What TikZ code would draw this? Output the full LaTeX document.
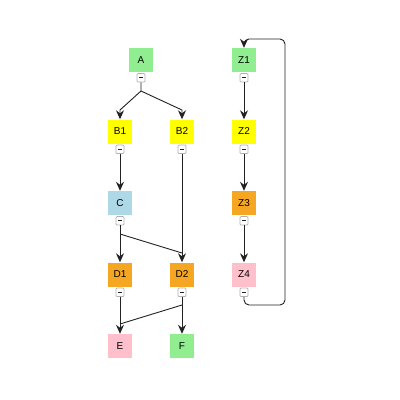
\documentclass[tikz,border=0pt]{standalone}
\usepackage{fontspec}
\setmainfont{Liberation Sans}
\usetikzlibrary{arrows.meta}
\definecolor{cgreen}{HTML}{90EE90}
\definecolor{cyellow}{HTML}{FFFF00}
\definecolor{cblue}{HTML}{ADD8E6}
\definecolor{corange}{HTML}{F5A623}
\definecolor{cpink}{HTML}{FFC0CB}
\definecolor{cedge}{HTML}{222222}
\definecolor{cbtn}{HTML}{B0B0B0}
\tikzset{
  box/.style={minimum width=24pt,minimum height=24pt,inner sep=0pt,font=\fontsize{10}{12}\selectfont},
  btn/.style={draw=cbtn,fill=white,rounded corners=1pt,minimum width=8pt,minimum height=8.5pt,inner sep=0pt,line width=0.7pt,
    path picture={\draw[cedge,line width=0.9pt] ([xshift=-2.2pt]path picture bounding box.center) -- ([xshift=2.2pt]path picture bounding box.center);}},
  conn/.style={draw=cedge,line width=0.9pt,-{Stealth[length=9pt,width=8pt,inset=3pt]}},
  plain/.style={draw=cedge,line width=0.9pt},
}
\begin{document}
\begin{tikzpicture}[x=1pt,y=-1pt]
\useasboundingbox (0,0) rectangle (400,400);
% nodes
\node[box,fill=cgreen] (A) at (141,60) {A};
\node[box,fill=cyellow] (B1) at (120,131.5) {B1};
\node[box,fill=cyellow] (B2) at (182,131.5) {B2};
\node[box,fill=cblue] (C) at (120,203) {C};
\node[box,fill=corange] (D1) at (120,274.5) {D1};
\node[box,fill=corange] (D2) at (182,274.5) {D2};
\node[box,fill=cpink] (E) at (120,346) {E};
\node[box,fill=cgreen] (F) at (182,346) {F};
\node[box,fill=cgreen] (Z1) at (244,60) {Z1};
\node[box,fill=cyellow] (Z2) at (244,131.5) {Z2};
\node[box,fill=corange] (Z3) at (244,203) {Z3};
\node[box,fill=cpink] (Z4) at (244,274.5) {Z4};
% buttons
\foreach \n in {A,B1,B2,C,D1,D2,Z1,Z2,Z3,Z4}{
  \node[btn,anchor=north] (b\n) at ([yshift=-1pt]\n.south) {};
}
% coordinates
\coordinate (a1) at (141,91);
\coordinate (a2) at (120,110);
\coordinate (a3) at (182,110);
\coordinate (c1) at (120,234);
\coordinate (c2) at (182,253);
\coordinate (d1) at (182,305);
\coordinate (d2) at (120,324);
\coordinate (z1) at (244,305);
\coordinate (z2) at (285,305);
\coordinate (z3) at (285,39);
\coordinate (z4) at (244,39);
% edges
\draw[conn] (bA.south) -- (a1) -- (a2) -- (B1.north);
\draw[conn] (a1) -- (a3) -- (B2.north);
\draw[conn] (bB1.south) -- (C.north);
\draw[conn] (bB2.south) -- (D2.north);
\draw[conn] (bC.south) -- (D1.north);
\draw[plain] (c1) -- (c2);
\draw[conn] (bD1.south) -- (E.north);
\draw[conn] (bD2.south) -- (F.north);
\draw[plain] (d1) -- (d2);
\draw[conn] (bZ1.south) -- (Z2.north);
\draw[conn] (bZ2.south) -- (Z3.north);
\draw[conn] (bZ3.south) -- (Z4.north);
\draw[conn,rounded corners=5pt] (bZ4.south) -- (z1) -- (z2) -- (z3) -- (z4) -- (Z1.north);
\end{tikzpicture}
\end{document}
